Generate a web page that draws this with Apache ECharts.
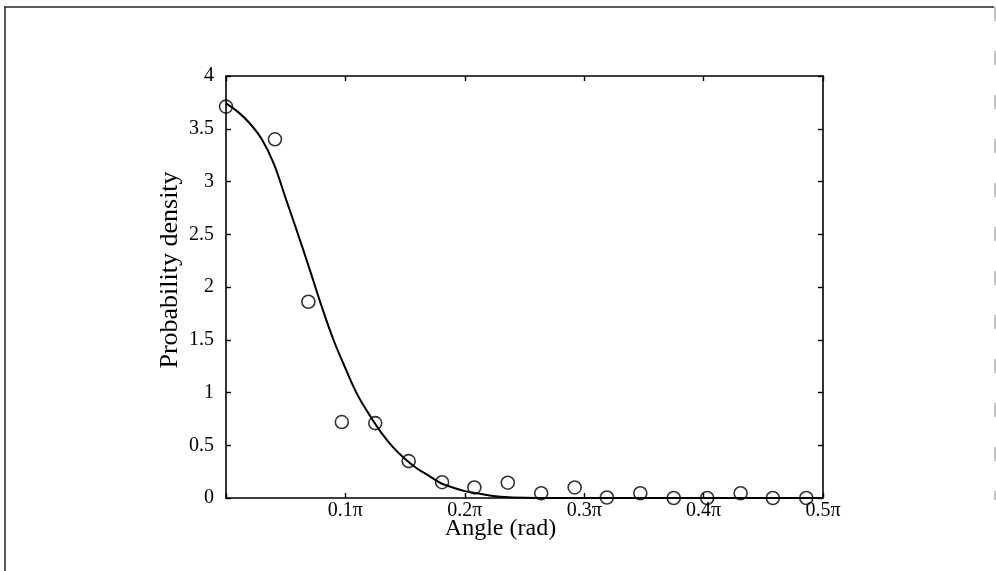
<!DOCTYPE html>
<html>
<head>
<meta charset="utf-8">
<script src="https://cdn.jsdelivr.net/npm/echarts@6/dist/echarts.min.js"></script>
<style>
html,body{margin:0;padding:0;background:#fff;}
#chart{width:996px;height:571px;}
</style>
</head>
<body>
<div id="chart"></div>
<script>
// Angle in units of pi (rad / pi)
var pointAngles = [0, 0.041, 0.069, 0.097, 0.125, 0.153, 0.181, 0.208, 0.236, 0.264, 0.292, 0.319, 0.347, 0.375, 0.403, 0.431, 0.458, 0.486];
var pointDensity = [3.71, 3.40, 1.86, 0.72, 0.71, 0.35, 0.15, 0.10, 0.145, 0.045, 0.10, 0.005, 0.045, 0.0, 0.0, 0.045, 0.0, 0.0];

var curveAngles = [0, 0.01, 0.02, 0.03, 0.04, 0.05, 0.06, 0.07, 0.08, 0.09, 0.10, 0.11, 0.12, 0.13, 0.14, 0.15, 0.16, 0.17, 0.18, 0.19, 0.20, 0.21, 0.22, 0.23, 0.25, 0.30, 0.40, 0.50];
var curveDensity = [3.74, 3.66, 3.55, 3.40, 3.17, 2.84, 2.51, 2.17, 1.82, 1.50, 1.23, 0.98, 0.79, 0.62, 0.48, 0.37, 0.28, 0.21, 0.14, 0.10, 0.065, 0.045, 0.025, 0.012, 0.003, 0, 0, 0];

var xTickLabels = ['', '0.1\u03c0', '0.2\u03c0', '0.3\u03c0', '0.4\u03c0', '0.5\u03c0'];
var yTickLabels = ['0', '0.5', '1', '1.5', '2', '2.5', '3', '3.5', '4'];

var xName = 'Angle (rad)';
var yName = 'Probability density';

var FONT = '"Liberation Serif", "DejaVu Serif", serif';
var INK = '#000';

function zip(a, b) { return a.map(function (v, i) { return [v, b[i]]; }); }

var chart = echarts.init(document.getElementById('chart'));
var axisLine = { show: true, onZero: false, lineStyle: { color: INK, width: 1.6 } };
var tick = { show: true, inside: true, length: 5, lineStyle: { color: INK, width: 1.4 } };

chart.setOption({
  backgroundColor: '#fff',
  animation: false,
  grid: { left: 226, right: 173, top: 76, bottom: 73, containLabel: false },
  graphic: [
    { type: 'line', shape: { x1: 4, y1: 7, x2: 994, y2: 7 }, style: { stroke: '#222', lineWidth: 1.5 } },
    { type: 'line', shape: { x1: 5, y1: 7, x2: 5, y2: 571 }, style: { stroke: '#222', lineWidth: 1.5 } },
    { type: 'line', shape: { x1: 995, y1: 7, x2: 995, y2: 500 }, style: { stroke: '#999', lineWidth: 1.2, lineDash: [14, 30] } }
  ],
  xAxis: [
    {
      type: 'value', min: 0, max: 0.5, interval: 0.1, position: 'bottom',
      axisLine: axisLine, axisTick: tick, splitLine: { show: false },
      axisLabel: {
        margin: 3, color: INK, fontFamily: FONT, fontSize: 20,
        formatter: function (v) { return xTickLabels[Math.round(v * 10)]; }
      },
      name: xName, nameLocation: 'middle', nameGap: 19, nameMoveOverlap: false,
      nameTextStyle: { color: INK, fontFamily: FONT, fontSize: 24, padding: [0, 48, 0, 0] }
    },
    {
      type: 'value', min: 0, max: 0.5, interval: 0.1, position: 'top',
      axisLine: axisLine, axisTick: tick, axisLabel: { show: false }, splitLine: { show: false }
    }
  ],
  yAxis: [
    {
      type: 'value', min: 0, max: 4, interval: 0.5, position: 'left',
      axisLine: axisLine, axisTick: tick, splitLine: { show: false },
      axisLabel: {
        margin: 12, color: INK, fontFamily: FONT, fontSize: 20,
        formatter: function (v) { return yTickLabels[Math.round(v * 2)]; }
      },
      name: yName, nameLocation: 'middle', nameGap: 43, nameMoveOverlap: false,
      nameTextStyle: { color: INK, fontFamily: FONT, fontSize: 26, padding: [0, 0, 0, 34] }
    },
    {
      type: 'value', min: 0, max: 4, interval: 0.5, position: 'right',
      axisLine: axisLine, axisTick: tick, axisLabel: { show: false }, splitLine: { show: false }
    }
  ],
  series: [
    {
      type: 'line', data: zip(curveAngles, curveDensity), smooth: 0.4,
      showSymbol: false, lineStyle: { color: INK, width: 2 }, z: 2
    },
    {
      type: 'scatter', data: zip(pointAngles, pointDensity), symbol: 'circle', symbolSize: 13,
      itemStyle: { color: 'rgba(0,0,0,0)', borderColor: INK, borderWidth: 1.6 }, z: 3
    }
  ]
});
</script>
</body>
</html>
